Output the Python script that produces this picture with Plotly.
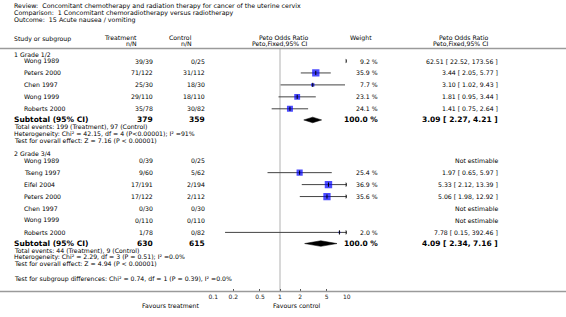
import math
import plotly.graph_objects as go

# ---------------- data ----------------
title_lines = [
    "Review:  Concomitant chemotherapy and radiation therapy for cancer of the uterine cervix",
    "Comparison:  1 Concomitant chemoradiotherapy versus radiotherapy",
    "Outcome:  15 Acute nausea / vomiting",
]

g1_name = "1 Grade 1/2"
g1_studies = ["Wong 1989", "Peters 2000", "Chen 1997", "Wong 1999", "Roberts 2000"]
g1_treat = ["39/39", "71/122", "25/30", "29/110", "35/78"]
g1_ctrl = ["0/25", "31/112", "18/30", "18/110", "30/82"]
g1_weight = [9.2, 35.9, 7.7, 23.1, 24.1]
g1_or = [62.51, 3.44, 3.10, 1.81, 1.41]
g1_lo = [22.52, 2.05, 1.02, 0.95, 0.75]
g1_hi = [173.56, 5.77, 9.43, 3.44, 2.64]
g1_total_n = [379, 359]
g1_sub = [3.09, 2.27, 4.21]
g1_notes = [
    "Total events: 199 (Treatment), 97 (Control)",
    "Heterogeneity: Chi² = 42.15, df = 4 (P<0.00001); I² =91%",
    "Test for overall effect: Z = 7.16 (P < 0.00001)",
]

g2_name = "2 Grade 3/4"
g2_studies = ["Wong 1989", "Tseng 1997", "Eifel 2004", "Peters 2000", "Chen 1997", "Wong 1999", "Roberts 2000"]
g2_treat = ["0/39", "9/60", "17/191", "17/122", "0/30", "0/110", "1/78"]
g2_ctrl = ["0/25", "5/62", "2/194", "2/112", "0/30", "0/110", "0/82"]
g2_weight = [None, 25.4, 36.9, 35.6, None, None, 2.0]
g2_or = [None, 1.97, 5.33, 5.06, None, None, 7.78]
g2_lo = [None, 0.65, 2.12, 1.98, None, None, 0.15]
g2_hi = [None, 5.97, 13.39, 12.92, None, None, 392.46]
g2_total_n = [630, 615]
g2_sub = [4.09, 2.34, 7.16]
g2_notes = [
    "Total events: 44 (Treatment), 9 (Control)",
    "Heterogeneity: Chi² = 2.29, df = 3 (P = 0.51); I² =0.0%",
    "Test for overall effect: Z = 4.94 (P < 0.00001)",
]

subgroup_test = "Test for subgroup differences: Chi² = 0.74, df = 1 (P = 0.39), I² =0.0%"
tick_vals = [0.1, 0.2, 0.5, 1, 2, 5, 10]
tick_text = ["0.1", "0.2", "0.5", "1", "2", "5", "10"]
x_min, x_max = 0.1, 10
left_label = "Favours treatment"
right_label = "Favours control"

# ---------------- layout constants ----------------
W, H = 566, 317
FONT = "DejaVu Sans"
FS = 6.2
AX_Y = 291.5
PLOT_L, PLOT_R = 213.3, 346.7

fig = go.Figure()
ann = []


def px(x):
    return x / W


def py(y):
    return 1 - y / H


def text(t, x, y, anchor="left", size=FS, bold=False, color="#000"):
    if bold:
        t = "<b>" + t + "</b>"
    ann.append(dict(text=t, x=px(x), y=py(y), xref="paper", yref="paper",
                    xanchor=anchor, yanchor="middle", showarrow=False, borderpad=0,
                    font=dict(family=FONT, size=size, color=color)))


def fmt_ci(o, l, h):
    return f"{o:.2f} [ {l:.2f}, {h:.2f} ]"


# titles
for i, t in enumerate(title_lines):
    text(t, 13, 6 + i * 6.8, size=6.3)

# column headers
text("Study or subgroup", 13, 38.5)
text("Treatment", 138, 37.5, "right")
text("n/N", 138, 43.5, "right")
text("Control", 193, 37.5, "right")
text("n/N", 193, 43.5, "right")
text("Peto Odds Ratio", 284, 37.5, "center")
text("Peto,Fixed,95% CI", 280, 43.5, "center")
text("Weight", 373, 37.5, "right")
text("Peto Odds Ratio", 490, 37.5, "right")
text("Peto,Fixed,95% CI", 490, 43.5, "right")

line_x, line_y = [], []
sq_x, sq_y, sq_s = [], [], []
arr_x, arr_y = [], []


def group(name, y_head, y0, studies, treat, ctrl, wts, ors, los, his, tot, sub, notes):
    text(name, 13, y_head)
    step = 11.95
    for i, s in enumerate(studies):
        y = y0 + i * step
        text(s, 23, y)
        text(treat[i], 154, y, "right")
        text(ctrl[i], 206, y, "right")
        if ors[i] is None:
            text("Not estimable", 499, y, "right")
            continue
        text(f"{wts[i]:.1f} %", 379, y, "right")
        text(fmt_ci(ors[i], los[i], his[i]), 499, y, "right")
        lo = max(los[i], x_min)
        hi = min(his[i], x_max)
        if lo < hi:
            line_x.extend([lo, hi, None])
            line_y.extend([y, y, None])
        if his[i] > x_max:
            arr_x.append(x_max)
            arr_y.append(y)
        if x_min <= ors[i] <= x_max:
            sq_x.append(ors[i])
            sq_y.append(y)
            sq_s.append(1.22 * math.sqrt(wts[i]))
    ys = y0 + len(studies) * step - 0.8
    text("Subtotal (95% CI)", 13, ys, size=7.5, bold=True)
    text(str(tot[0]), 154, ys, "right", size=7.5, bold=True)
    text(str(tot[1]), 206, ys, "right", size=7.5, bold=True)
    text("100.0 %", 379, ys, "right", size=7.5, bold=True)
    text(fmt_ci(*sub), 499, ys, "right", size=7.5, bold=True)
    h = 2.8
    fig.add_trace(go.Scatter(x=[sub[1], sub[0], sub[2], sub[0], sub[1]],
                             y=[ys, ys - h, ys, ys + h, ys], mode="lines",
                             fill="toself", fillcolor="#000",
                             line=dict(color="#000", width=0.5), hoverinfo="skip"))
    for j, n in enumerate(notes):
        text(n, 13, ys + 7 + j * 6.6)


group(g1_name, 54.5, 61, g1_studies, g1_treat, g1_ctrl, g1_weight, g1_or, g1_lo, g1_hi,
      g1_total_n, g1_sub, g1_notes)
group(g2_name, 153.5, 160.7, g2_studies, g2_treat, g2_ctrl, g2_weight, g2_or, g2_lo, g2_hi,
      g2_total_n, g2_sub, g2_notes)

text(subgroup_test, 13, 278.5)
text(left_label, 170, 305, "center")
text(right_label, 297, 305, "center")

fig.add_trace(go.Scatter(x=line_x, y=line_y, mode="lines",
                         line=dict(color="#444", width=1), hoverinfo="skip"))
fig.add_trace(go.Scatter(x=sq_x, y=sq_y, mode="markers",
                         marker=dict(symbol="square", size=sq_s, color="#0000ff",
                                     line=dict(width=0)), hoverinfo="skip"))
fig.add_trace(go.Scatter(x=sq_x, y=sq_y, mode="markers",
                         marker=dict(symbol="line-ns", size=3,
                                     line=dict(color="#000", width=1)), hoverinfo="skip"))
fig.add_trace(go.Scatter(x=arr_x, y=arr_y, mode="markers",
                         marker=dict(symbol="triangle-right", size=4, color="#000",
                                     line=dict(width=0)), hoverinfo="skip"))

shapes = [
    dict(type="line", xref="paper", yref="y", x0=0, x1=1, y0=48.5, y1=48.5,
         line=dict(color="#9a9a9a", width=1.5)),
    dict(type="line", xref="paper", yref="y", x0=0, x1=1, y0=AX_Y, y1=AX_Y,
         line=dict(color="#9a9a9a", width=1.5)),
    dict(type="line", xref="x", yref="y", x0=1, x1=1, y0=49, y1=AX_Y,
         line=dict(color="#d8d8d8", width=2), layer="below"),
]

fig.update_layout(
    width=W, height=H, margin=dict(l=0, r=0, t=0, b=0, autoexpand=False),
    paper_bgcolor="#fff", plot_bgcolor="rgba(0,0,0,0)",
    showlegend=False, hovermode=False,
    font=dict(family=FONT, size=FS, color="#000"),
    annotations=ann, shapes=shapes,
    xaxis=dict(type="log", range=[math.log10(x_min), math.log10(x_max)],
               domain=[PLOT_L / W, PLOT_R / W], anchor="free", position=1 - AX_Y / H,
               tickvals=tick_vals, ticktext=tick_text, ticks="inside", ticklen=3,
               tickcolor="#555", tickfont=dict(size=6, family=FONT, color="#222"),
               showgrid=False, showline=False, zeroline=False, fixedrange=True,
               automargin=False),
    yaxis=dict(range=[H, 0], domain=[0, 1], visible=False, fixedrange=True,
               automargin=False),
)

fig.write_html(
    "out.html",
    config={"displayModeBar": False, "staticPlot": True},
    post_script="document.body.style.margin='0';document.body.style.overflow='hidden';",
)
